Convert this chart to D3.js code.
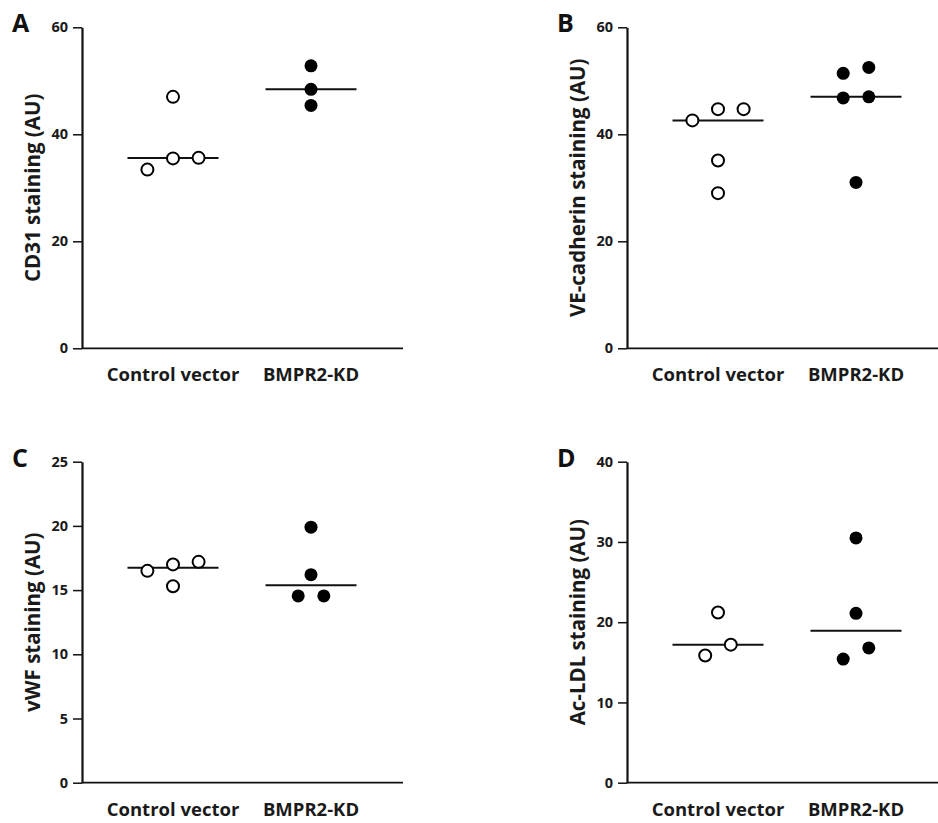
<!DOCTYPE html>
<html>
<head>
  <title>Staining</title>
  <style type="text/css">
    body { margin: 0; background: #fff; }
    svg { display: block; font-family: "Open Sans", Lato, sans-serif; }
    .tick line, .domain { stroke: #111; }
  </style>
</head>
<body>
  <script type="text/javascript" src="https://cdn.jsdelivr.net/npm/d3@7/dist/d3.min.js"></script>
  <script type="text/javascript">
    // categories and values
    var categories = ["Control vector", "BMPR2-KD"];

    var cd31Control = [47.0, 35.6, 35.5, 33.4];
    var cd31Kd = [52.8, 48.4, 45.4];

    var veControl = [44.7, 44.7, 42.6, 35.1, 29.0];
    var veKd = [52.5, 51.4, 47.0, 46.8, 31.0];

    var vwfControl = [17.2, 17.0, 16.5, 15.3];
    var vwfKd = [19.9, 16.2, 14.55, 14.55];

    var ldlControl = [21.2, 17.2, 15.85];
    var ldlKd = [30.5, 21.1, 16.8, 15.4];

    var ticks60 = [0, 20, 40, 60];
    var ticks25 = [0, 5, 10, 15, 20, 25];
    var ticks40 = [0, 10, 20, 30, 40];

    var panels = [
      { letter: "A", title: "CD31 staining (AU)", groups: [cd31Control, cd31Kd], ticks: ticks60, left: 82, top: 27.3, right: 403 },
      { letter: "B", title: "VE-cadherin staining (AU)", groups: [veControl, veKd], ticks: ticks60, left: 627, top: 27.3, right: 938 },
      { letter: "C", title: "vWF staining (AU)", groups: [vwfControl, vwfKd], ticks: ticks25, left: 82, top: 461.7, right: 403 },
      { letter: "D", title: "Ac-LDL staining (AU)", groups: [ldlControl, ldlKd], ticks: ticks40, left: 627, top: 461.7, right: 938 }
    ];

    var w = 938, h = 823;
    var plotH = 321;
    var r = 6;
    var step = 25.6;

    var svg = d3.select("body").append("svg")
      .attr("width", w)
      .attr("height", h);

    // spread overlapping points sideways, like a column scatter
    function spread(vals, y) {
      var sorted = vals.slice().sort(d3.ascending);
      var out = [], bin = [];
      sorted.forEach(function(v) {
        if (bin.length && Math.abs(y(v) - y(bin[0])) >= 2 * r) { flush(); }
        bin.push(v);
      });
      flush();
      function flush() {
        bin.forEach(function(v, i) {
          out.push({ v: v, dx: (i - (bin.length - 1) / 2) * step });
        });
        bin = [];
      }
      return out;
    }

    panels.forEach(function(p) {
      var g = svg.append("g");
      var bottom = p.top + plotH;

      var y = d3.scaleLinear()
        .domain([0, d3.max(p.ticks)])
        .range([bottom, p.top]);

      var x = d3.scalePoint()
        .domain(categories)
        .range([p.left + 91, p.left + 229]);

      g.append("g")
        .attr("transform", "translate(0," + bottom + ")")
        .call(d3.axisBottom(x).tickValues([]).tickSizeOuter(0))
        .call(function(a) {
          a.select(".domain").attr("d", "M" + p.left + ",0H" + p.right).attr("stroke-width", 1.8);
        });

      g.append("g")
        .attr("transform", "translate(" + p.left + ",0)")
        .call(d3.axisLeft(y).tickValues(p.ticks).tickSize(9).tickPadding(5).tickSizeOuter(0))
        .call(function(a) {
          a.attr("font-family", null).attr("font-size", null);
          a.select(".domain").attr("stroke-width", 2.2);
          a.selectAll(".tick line").attr("stroke-width", 1.5);
          a.selectAll(".tick text")
            .attr("font-size", 14.5)
            .attr("font-weight", 700)
            .attr("fill", "#1a1a1a");
        });

      g.selectAll(".cat")
        .data(categories)
        .enter().append("text")
        .attr("class", "cat")
        .attr("x", function(d) { return x(d); })
        .attr("y", bottom + 33)
        .attr("text-anchor", "middle")
        .attr("font-size", 18.5)
        .attr("font-weight", 700)
        .attr("fill", "#1a1a1a")
        .text(function(d) { return d; });

      g.append("text")
        .attr("transform", "translate(" + (p.left - 42) + "," + ((p.top + bottom) / 2) + ") rotate(-90)")
        .attr("text-anchor", "middle")
        .attr("font-size", 20.5)
        .attr("font-weight", 700)
        .attr("fill", "#1a1a1a")
        .text(p.title);

      g.append("text")
        .attr("x", p.left - 70)
        .attr("y", p.top + 5)
        .attr("font-size", 25)
        .attr("font-weight", 700)
        .attr("fill", "#111")
        .text(p.letter);

      p.groups.forEach(function(vals, gi) {
        var cx = x(categories[gi]);
        var filled = gi === 1;

        g.append("line")
          .attr("x1", cx - 45.5)
          .attr("x2", cx + 45.5)
          .attr("y1", y(d3.median(vals)))
          .attr("y2", y(d3.median(vals)))
          .attr("stroke", "#111")
          .attr("stroke-width", 2);

        g.selectAll(".pt" + gi)
          .data(spread(vals, y))
          .enter().append("circle")
          .attr("cx", function(d) { return cx + d.dx; })
          .attr("cy", function(d) { return y(d.v); })
          .attr("r", filled ? r + 0.5 : r)
          .attr("fill", filled ? "#000" : "#fff")
          .attr("stroke", "#000")
          .attr("stroke-width", filled ? 0 : 2);
      });
    });
  </script>
</body>
</html>
